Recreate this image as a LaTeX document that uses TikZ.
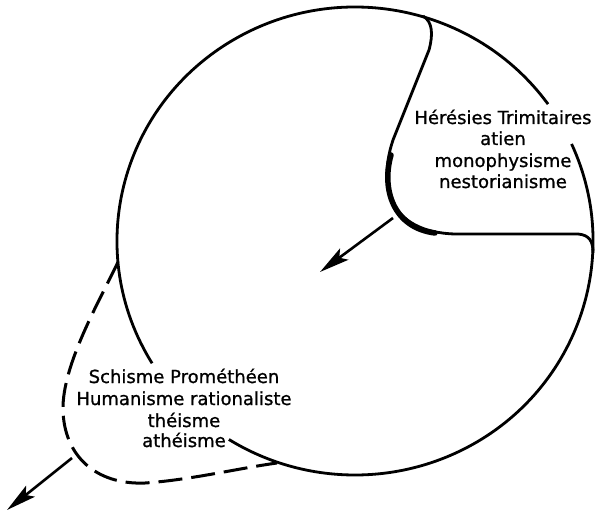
\documentclass[tikz,border=0pt]{standalone}
\usepackage{fontspec}
\setmainfont[FakeBold=1]{DejaVu Sans}
\usetikzlibrary{arrows.meta,calc}
\tikzset{
  outline/.style={line width=2.8bp},
  dashline/.style={line width=3bp, dash pattern=on 24bp off 9bp},
  arr/.style={line width=2.6bp, -{Stealth[length=30bp,width=14bp,inset=6bp]}},
  txt/.style={inner sep=0pt, anchor=base, font=\fontsize{18bp}{21bp}\selectfont},
}
\begin{document}
\begin{tikzpicture}[x=1bp,y=-1bp]
\useasboundingbox (0,0) rectangle (598,518);
\coordinate (C) at (355,241);
% main circle, in two arcs (gaps behind texts)
\draw[outline] ($(C)+(-148.5:238bp and 234bp)$) arc[start angle=-148.5, end angle=-324.2, x radius=238bp, y radius=234bp];
\draw[outline] ($(C)+(24.5:238bp and 234bp)$) arc[start angle=24.5, end angle=-122, x radius=238bp, y radius=234bp];
% Heresies region
\coordinate (T) at (423,16);
\coordinate (R) at (593,253);
\draw[outline] (T) .. controls (433,22) and (433,35) .. (429,50)
  -- (393,140) .. controls (378,185) and (388,232) .. (455,234)
  -- (578,234) .. controls (590,235) and (593,242) .. (R);
\draw[line width=5.5bp, line cap=round] (391,155) .. controls (381,190) and (394,228) .. (435,233);
% Schisme region (dashed)
\coordinate (L) at (118,262);
\coordinate (B) at (277,463);
\draw[dashline] (L) .. controls (100,300) and (62,365) .. (63,410)
  .. controls (64,455) and (95,485) .. (145,483)
  .. controls (190,480) and (240,468) .. (B);
% arrows
\coordinate (a1s) at (393,218);
\coordinate (a1e) at (320,272);
\draw[arr] (a1s) -- (a1e);
\coordinate (a2s) at (72,458);
\coordinate (a2e) at (7,510);
\draw[arr] (a2s) -- (a2e);
% texts
\node[txt] (h1) at (503,124) {Hérésies Trimitaires};
\node[txt] (h2) at (503,145) {atien};
\node[txt] (h3) at (503,167) {monophysisme};
\node[txt] (h4) at (503,188) {nestorianisme};
\node[txt] (s1) at (184,383) {Schisme Prométhéen};
\node[txt] (s2) at (184,405) {Humanisme rationaliste};
\node[txt] (s3) at (184,427) {théisme};
\node[txt] (s4) at (184,447) {athéisme};
\end{tikzpicture}
\end{document}
